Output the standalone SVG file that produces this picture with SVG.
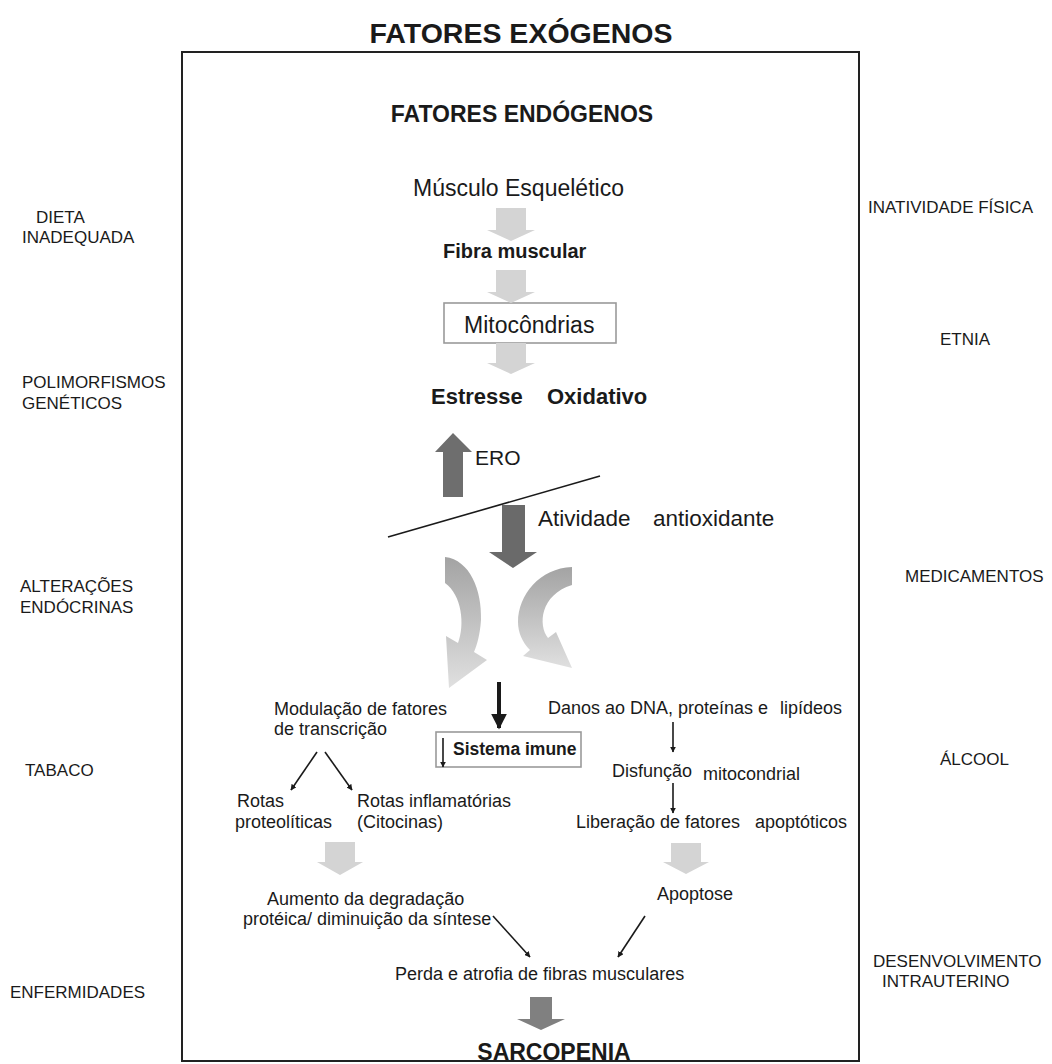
<svg xmlns="http://www.w3.org/2000/svg" width="1052" height="1064" viewBox="0 0 1052 1064">
<defs>
<style>
text{font-family:"Liberation Sans",Arial,sans-serif;fill:#1a1a1a}
.side{font-size:17px}
.body{font-size:18px}
.b{font-weight:bold}
.light{fill:#d4d4d4}
.thin{stroke:#1a1a1a;stroke-width:1.6;fill:none;marker-end:url(#ah)}
.box{fill:none;stroke:#9a9a9a;stroke-width:1.6}
</style>
<marker id="ah" viewBox="0 0 10 10" refX="9" refY="5" markerWidth="6" markerHeight="6" orient="auto" markerUnits="userSpaceOnUse">
<path d="M0,0 L10,5 L0,10 Z" fill="#1a1a1a"/>
</marker>
<marker id="ahb" viewBox="0 0 10 10" refX="9" refY="5" markerWidth="4" markerHeight="4" orient="auto" markerUnits="strokeWidth">
<path d="M0,0 L10,5 L0,10 Z" fill="#1a1a1a"/>
</marker>
<linearGradient id="cg" x1="0" y1="0" x2="0" y2="1">
<stop offset="0" stop-color="#a3a3a3"/>
<stop offset="1" stop-color="#e0e0e0"/>
</linearGradient>
</defs>
<rect x="0" y="0" width="1052" height="1064" fill="#ffffff"/>

<g id="frame">
<text x="521" y="43" font-size="28.5" font-weight="bold" text-anchor="middle">FATORES EXÓGENOS</text>
<rect x="182" y="52" width="677" height="1009" fill="none" stroke="#222" stroke-width="2"/>
<text x="522" y="122" font-size="23" font-weight="bold" text-anchor="middle">FATORES ENDÓGENOS</text>
</g>

<g id="exogenous-left">
<text class="side" x="36" y="223">DIETA</text>
<text class="side" x="22" y="243">INADEQUADA</text>
<text class="side" x="22" y="388">POLIMORFISMOS</text>
<text class="side" x="22" y="409">GENÉTICOS</text>
<text class="side" x="20" y="592">ALTERAÇÕES</text>
<text class="side" x="20" y="613">ENDÓCRINAS</text>
<text class="side" x="25" y="776">TABACO</text>
<text class="side" x="10" y="998">ENFERMIDADES</text>
</g>
<g id="exogenous-right">
<text class="side" x="868" y="213">INATIVIDADE FÍSICA</text>
<text class="side" x="940" y="345">ETNIA</text>
<text class="side" x="905" y="582">MEDICAMENTOS</text>
<text class="side" x="940" y="765">ÁLCOOL</text>
<text class="side" x="873" y="967">DESENVOLVIMENTO</text>
<text class="side" x="882" y="987">INTRAUTERINO</text>
</g>

<g id="n-musculo"><text x="413" y="196" font-size="23">Músculo Esquelético</text></g>
<g id="n-fibra"><text x="443" y="258" font-size="20" class="b">Fibra muscular</text></g>
<g id="n-mito"><rect class="box" x="444" y="303" width="172" height="40"/><text x="464" y="333" font-size="23">Mitocôndrias</text></g>
<g id="n-estresse"><text y="404" font-size="22" class="b"><tspan x="431">Estresse</tspan><tspan x="547">Oxidativo</tspan></text></g>
<g id="n-ero"><text x="475" y="465" font-size="21">ERO</text></g>
<g id="n-antiox"><text y="526" font-size="22.5"><tspan x="538">Atividade</tspan><tspan x="653">antioxidante</tspan></text></g>
<g id="n-modulacao"><text class="body" x="274" y="715">Modulação de fatores</text><text class="body" x="274" y="735">de transcrição</text></g>
<g id="n-imune"><rect class="box" x="436" y="732" width="145" height="35"/><text x="453" y="755" font-size="17.5" class="b">Sistema imune</text></g>
<g id="n-danos"><text class="body" y="714"><tspan x="548">Danos ao DNA, proteínas e</tspan><tspan x="780">lipídeos</tspan></text></g>
<g id="n-proteo"><text class="body" x="237" y="807">Rotas</text><text class="body" x="235" y="828">proteolíticas</text></g>
<g id="n-inflam"><text class="body" x="357" y="807">Rotas inflamatórias</text><text class="body" x="357" y="828">(Citocinas)</text></g>
<g id="n-disf"><text class="body"><tspan x="612" y="777">Disfunção</tspan><tspan x="703" y="780">mitocondrial</tspan></text></g>
<g id="n-liber"><text class="body" y="828"><tspan x="576">Liberação de fatores</tspan><tspan x="755">apoptóticos</tspan></text></g>
<g id="n-aumento"><text class="body" x="267" y="905">Aumento da degradação</text><text class="body" x="243" y="925">protéica/ diminuição da síntese</text></g>
<g id="n-apoptose"><text class="body" x="657" y="900">Apoptose</text></g>
<g id="n-perda"><text class="body" x="395" y="980">Perda e atrofia de fibras musculares</text></g>
<g id="n-sarcopenia"><text x="554" y="1060" font-size="23" class="b" text-anchor="middle">SARCOPENIA</text></g>

<g id="connectors">
<path class="light" d="M496,208 H526 V230 H535 L511,241 L487,230 H496 Z"/>
<path class="light" d="M496,270 H526 V292 H535 L511,303 L487,292 H496 Z"/>
<path class="light" d="M496,343 H526 V363 H535 L511,374 L487,363 H496 Z"/>
<path d="M443,497 V452 H435 L453,433 L472,452 H463 V497 Z" fill="#6e6e6e"/>
<line x1="388" y1="537" x2="600" y2="476" stroke="#1a1a1a" stroke-width="1.6"/>
<path d="M502,505 H525 V552 H537 L513,568 L489,552 H502 Z" fill="#6a6a6a"/>
<path fill="url(#cg)" d="M445,557 C470,560 482,590 481,620 C480,635 477,645 474,652 L487,660 L449,688 L446,636 L458,643 C465,625 462,595 445,583 Z"/>
<path fill="url(#cg)" d="M572,567 C540,568 518,595 518,622 C518,632 522,642 530,650 L523,656 L572,668 L556,632 L548,638 C538,625 540,595 572,585 Z"/>
<line x1="499" y1="682" x2="499" y2="728" stroke="#1a1a1a" stroke-width="4" marker-end="url(#ahb)"/>
<line class="thin" x1="443" y1="738" x2="443" y2="767"/>
<line class="thin" x1="317" y1="752" x2="291" y2="790"/>
<line class="thin" x1="325" y1="752" x2="352" y2="790"/>
<line class="thin" x1="673" y1="722" x2="673" y2="752"/>
<line class="thin" x1="673" y1="783" x2="673" y2="813"/>
<path class="light" d="M325,842 H355 V862 H363 L340,875 L317,862 H325 Z"/>
<path class="light" d="M671,843 H701 V862 H709 L686,874 L663,862 H671 Z"/>
<line class="thin" x1="493" y1="916" x2="530" y2="957"/>
<line class="thin" x1="645" y1="916" x2="618" y2="957"/>
<path d="M530,997 H552 V1019 H565 L541,1030 L517,1019 H530 Z" fill="#808080"/>
</g>
</svg>
